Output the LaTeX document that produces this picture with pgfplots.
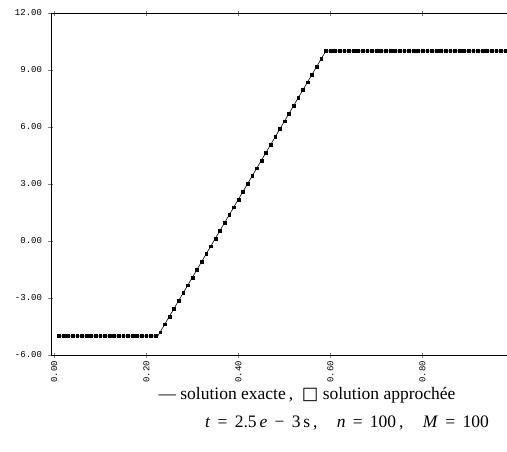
\documentclass[border=0pt]{standalone}
\usepackage{fontspec}
\setmainfont{Liberation Serif}
\setsansfont{Liberation Sans}
\setmonofont{Liberation Mono}
\newfontfamily\symb{DejaVu Sans}
\usepackage{pgfplots}
\pgfplotsset{compat=1.18}

\begin{document}
\begin{tikzpicture}
\path[use as bounding box] (-51pt,-96pt) rectangle (456pt,355pt);
\begin{axis}[
  at={(0pt,0pt)}, anchor=south west,
  scale only axis,
  width=459pt, height=342pt,
  xmin=-0.007, xmax=0.99,
  ymin=-6, ymax=12,
  xtick={0,0.2,0.4,0.6,0.8},
  ytick={-6,-3,0,3,6,9,12},
  xtick pos=both, ytick pos=left,
  tick align=center,
  major tick length=5pt,
  axis line style={line width=0.6pt},
  /pgf/number format/assume math mode=true,
  /pgf/number format/.cd, fixed, zerofill, precision=2, /tikz/.cd,
  ticklabel style={font=\ttfamily\fontsize{9}{10}\selectfont},
  yticklabel style={xshift=-3pt},
  xticklabel style={rotate=90, anchor=east},
  clip=false,
]
% solution exacte
\addplot[black, line width=0.6pt] coordinates {
  (0.01,-5) (0.225,-5) (0.59,10) (0.99,10)};
% solution approchee
\addplot[only marks, mark=square*, mark size=1.4pt, black] coordinates {
  (0.01,-5) (0.02,-5) (0.03,-5) (0.04,-5) (0.05,-5) (0.06,-5) (0.07,-5)
  (0.08,-5) (0.09,-5) (0.10,-5) (0.11,-5) (0.12,-5) (0.13,-5) (0.14,-5)
  (0.15,-5) (0.16,-5) (0.17,-5) (0.18,-5) (0.19,-5) (0.20,-5) (0.21,-5)
  (0.22,-5)
  (0.23,-4.795) (0.24,-4.384) (0.25,-3.973) (0.26,-3.562) (0.27,-3.151)
  (0.28,-2.740) (0.29,-2.329) (0.30,-1.918) (0.31,-1.507) (0.32,-1.096)
  (0.33,-0.685) (0.34,-0.274) (0.35,0.137) (0.36,0.548) (0.37,0.959)
  (0.38,1.370) (0.39,1.781) (0.40,2.192) (0.41,2.603) (0.42,3.014)
  (0.43,3.425) (0.44,3.836) (0.45,4.247) (0.46,4.658) (0.47,5.068)
  (0.48,5.479) (0.49,5.890) (0.50,6.301) (0.51,6.712) (0.52,7.123)
  (0.53,7.534) (0.54,7.945) (0.55,8.356) (0.56,8.767) (0.57,9.178)
  (0.58,9.589)
  (0.59,10) (0.60,10) (0.61,10) (0.62,10) (0.63,10) (0.64,10) (0.65,10)
  (0.66,10) (0.67,10) (0.68,10) (0.69,10) (0.70,10) (0.71,10) (0.72,10)
  (0.73,10) (0.74,10) (0.75,10) (0.76,10) (0.77,10) (0.78,10) (0.79,10)
  (0.80,10) (0.81,10) (0.82,10) (0.83,10) (0.84,10) (0.85,10) (0.86,10)
  (0.87,10) (0.88,10) (0.89,10) (0.90,10) (0.91,10) (0.92,10) (0.93,10)
  (0.94,10) (0.95,10) (0.96,10) (0.97,10) (0.98,10) (0.99,10)};
\end{axis}
\node[font=\fontsize{17.5}{19}\selectfont] at (256pt,-40pt)
  {— solution exacte\,,\ \ {\symb □} solution approchée};
\node[font=\fontsize{17.5}{19}\selectfont] at (296pt,-68pt)
  {\textit{t}\,\ =\,\ 2.5\,\textit{e}\,\ −\,\ 3\,s\,,\hspace{1.1em}\textit{n}\,\ =\,\ 100\,,\hspace{1.1em}\textit{M}\,\ =\,\ 100};
\end{tikzpicture}
\end{document}
